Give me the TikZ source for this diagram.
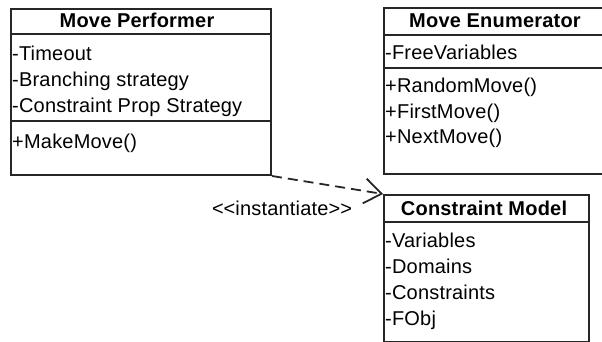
\documentclass[tikz,border=0pt]{standalone}
\usepackage{fontspec}
\setmainfont{Liberation Sans}[LetterSpace=1]
\usetikzlibrary{arrows.meta}
\begin{document}
\begin{tikzpicture}[x=1pt,y=-1pt,
  classbox/.style={draw=black!85, line width=2pt, inner sep=0pt, anchor=north west},
  sepline/.style={draw=black!85, line width=2pt},
  title/.style={font=\fontsize{20}{23}\selectfont\bfseries, anchor=base, inner sep=0pt},
  member/.style={font=\fontsize{20}{23}\selectfont, anchor=base west, inner sep=0pt},
  depend/.style={draw=black!85, line width=1.8pt, dash pattern=on 10pt off 6pt,
    -{Straight Barb[length=17pt,width=25pt,line width=1.8pt]}}]
\useasboundingbox (0,0) rectangle (602,342);
\clip (0,0) rectangle (602,342);

% Move Performer class
\node[classbox, minimum width=260pt, minimum height=166pt] (mp) at (10,8) {};
\draw[sepline] (10,34) -- (270,34);
\draw[sepline] (10,121) -- (270,121);
\node[title] (mpt) at (137,28) {Move Performer};
\node[member] (mp1) at (12,61) {-Timeout};
\node[member] (mp2) at (12,87) {-Branching strategy};
\node[member] (mp3) at (12,113) {-Constraint Prop Strategy};
\node[member] (mp4) at (12,148) {+MakeMove()};

% Move Enumerator class
\node[classbox, minimum width=230pt, minimum height=166pt] (me) at (383,7) {};
\draw[sepline] (383,35) -- (613,35);
\draw[sepline] (383,68) -- (613,68);
\node[title] (met) at (495,28) {Move Enumerator};
\node[member] (me1) at (385,60) {-FreeVariables};
\node[member] (me2) at (385,93) {+RandomMove()};
\node[member] (me3) at (385,118) {+FirstMove()};
\node[member] (me4) at (385,143) {+NextMove()};

% Constraint Model class
\node[classbox, minimum width=205pt, minimum height=147pt] (cm) at (383,194) {};
\draw[sepline] (383,222) -- (588,222);
\node[title] (cmt) at (484,215) {Constraint Model};
\node[member] (cm1) at (385,247) {-Variables};
\node[member] (cm2) at (385,273) {-Domains};
\node[member] (cm3) at (385,299) {-Constraints};
\node[member] (cm4) at (385,325) {-FObj};

% instantiate dependency
\draw[depend] (mp.south east) -- (cm.north west);
\node[font=\fontsize{20}{23}\selectfont, anchor=base, inner sep=0pt] (lbl) at (282,215)
  {\mbox{<}\mbox{<}instantiate\mbox{>}\mbox{>}};
\end{tikzpicture}
\end{document}
